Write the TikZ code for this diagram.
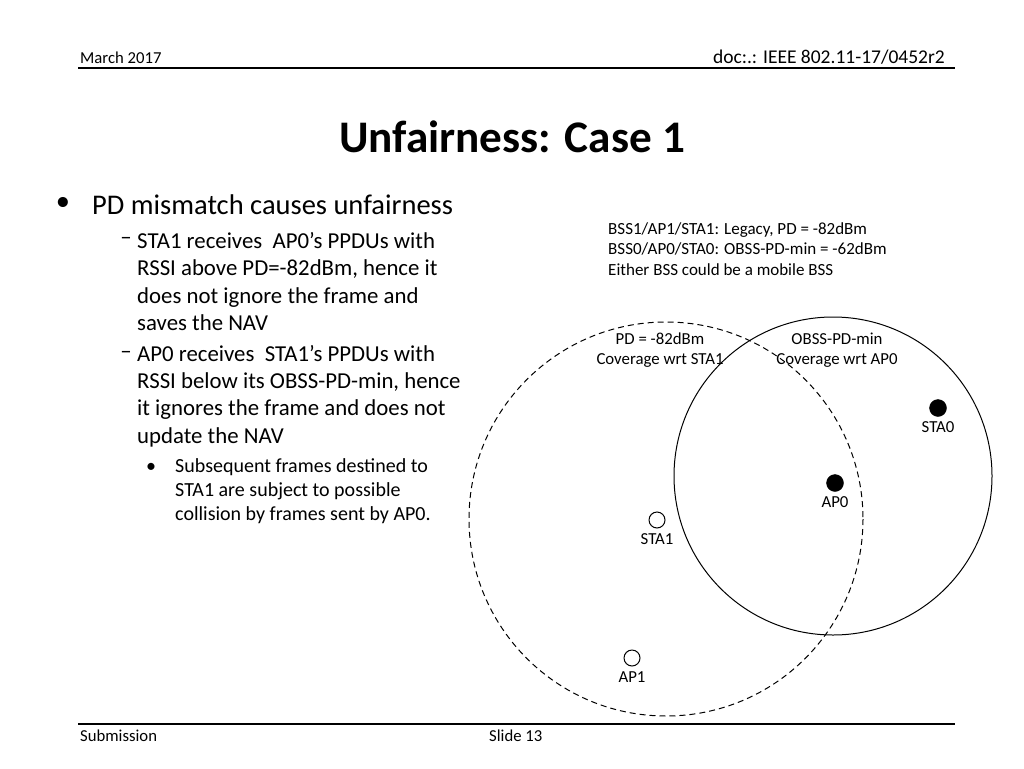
\documentclass[tikz,border=0pt]{standalone}
\usepackage{fontspec}
\setmainfont{Carlito}
\usetikzlibrary{positioning}

\tikzset{
  hdr/.style={inner sep=0pt, font=\fontsize{16.7}{20}\selectfont},
  txtA/.style={inner sep=0pt, align=left, anchor=west, font=\fontsize{28.5}{34}\selectfont},
  txtB/.style={inner sep=0pt, align=left, anchor=west, font=\fontsize{22.8}{27.2}\selectfont},
  txtC/.style={inner sep=0pt, align=left, anchor=west, font=\fontsize{20}{24}\selectfont},
  info/.style={inner sep=0pt, align=left, anchor=west, font=\fontsize{17}{20.5}\selectfont},
  lbl/.style={inner sep=0pt, align=center, font=\fontsize{16.8}{20}\selectfont},
  apfull/.style={circle, draw, fill=black, minimum size=17pt, inner sep=0pt},
  apopen/.style={circle, draw, line width=1pt, fill=white, minimum size=16pt, inner sep=0pt},
}

\begin{document}
\begin{tikzpicture}[x=1pt, y=-1pt]
  \useasboundingbox[fill=white] (0,0) rectangle (1024,768);

  % header and footer
  \node[hdr, anchor=west] (date) at (80,58) {March 2017};
  \node[hdr, anchor=east, font=\fontsize{19.5}{22}\selectfont] (doc) at (945,57) {doc:.: IEEE 802.11-17/0452r2};
  \draw[line width=1.5pt] (78,68) -- (955,68);
  \draw[line width=1.5pt] (78,724) -- (955,724);
  \node[hdr, anchor=west] (sub) at (80,736) {Submission};
  \node[hdr, anchor=west] (slide) at (489,736) {Slide 13};

  % title
  \node[inner sep=0pt, font=\fontsize{45.2}{50}\selectfont\bfseries] (title) at (512,137) {Unfairness: Case 1};

  % bullets
  \node[txtA, anchor=center] (b1) at (63,204) {\textbullet};
  \node[txtA] (t1) at (92,205) {PD mismatch causes unfairness};
  \node[txtB, anchor=center] (d1) at (126,241) {--};
  \node[txtB] (t2) at (137,281.5) {STA1 receives\ \ AP0’s PPDUs with\\RSSI above PD=-82dBm, hence it\\does not ignore the frame and\\saves the NAV};
  \node[txtB, anchor=center] (d2) at (126,355) {--};
  \node[txtB] (t3) at (137,396) {AP0 receives\ \ STA1’s PPDUs with\\RSSI below its OBSS-PD-min, hence\\it ignores the frame and does not\\update the NAV};
  \node[txtC, anchor=center] (b2) at (151,468) {\textbullet};
  \node[txtC] (t4) at (175,491) {Subsequent frames destined to\\STA1 are subject to possible\\collision by frames sent by AP0.};

  % coverage areas
  \draw[dashed, line width=1pt, dash pattern=on 6pt off 4pt] (666,519) circle (197);
  \draw[line width=1pt] (833,476) circle (159);

  \node[info] (cfg) at (608,249) {BSS1/AP1/STA1: Legacy, PD = -82dBm\\BSS0/AP0/STA0: OBSS-PD-min = -62dBm\\Either BSS could be a mobile BSS};
  \node[lbl] (pdlbl) at (660,350) {PD = -82dBm\\Coverage wrt STA1};
  \node[lbl] (obsslbl) at (837,350) {OBSS-PD-min\\Coverage wrt AP0};

  % stations
  \node[apfull] (sta0) at (938,408) {};
  \node[lbl, below=5pt of sta0] {STA0};
  \node[apfull] (ap0) at (835,483) {};
  \node[lbl, below=5pt of ap0] {AP0};
  \node[apopen] (sta1) at (657,520) {};
  \node[lbl, below=5pt of sta1] {STA1};
  \node[apopen] (ap1) at (632,658) {};
  \node[lbl, below=5pt of ap1] {AP1};
\end{tikzpicture}
\end{document}
